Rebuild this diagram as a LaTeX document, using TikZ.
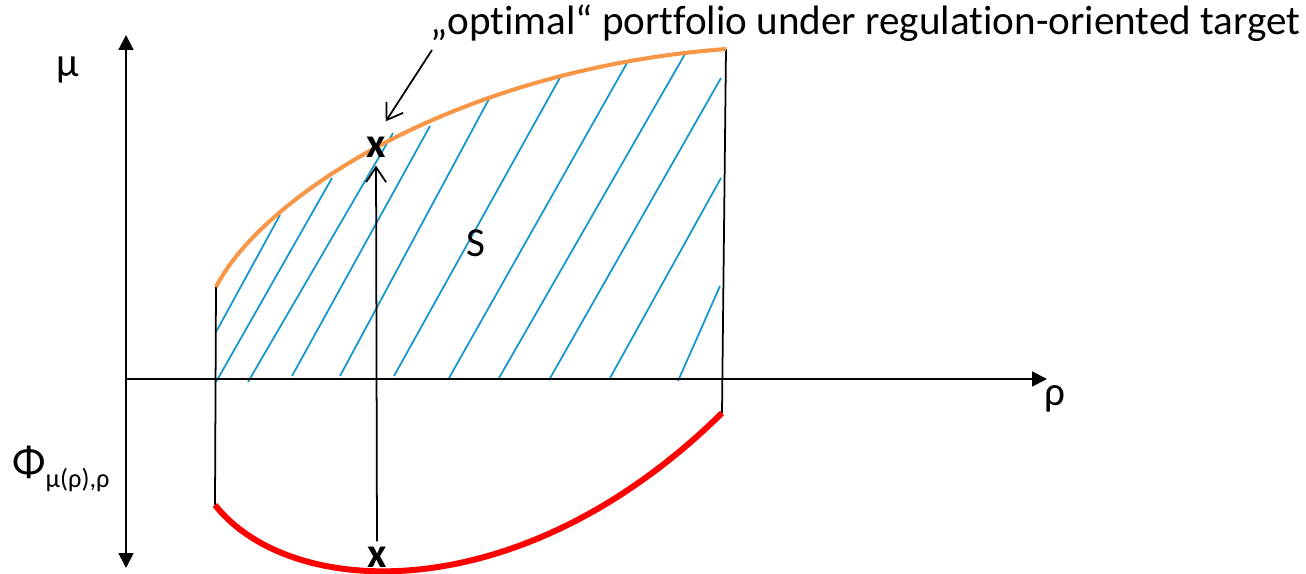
\documentclass[tikz,border=0pt]{standalone}
\usepackage{fontspec}
\setmainfont[Ligatures=NoCommon]{Carlito}
\usetikzlibrary{arrows.meta}
\definecolor{hatchblue}{RGB}{20,150,205}
\definecolor{frontorange}{RGB}{247,150,70}
\begin{document}
\begin{tikzpicture}[
        x=0.02cm, y=-0.02cm,
        lbl/.style={font=\fontsize{23.4}{28}\selectfont, inner sep=0},
        optpt/.style={font=\fontsize{24}{28}\selectfont\bfseries, inner sep=0},
        axis/.style={line width=1pt, -{Triangle[length=0.3cm, width=0.3cm]}},
        barb/.style={line width=1pt, -{Straight Barb[length=0.3cm, width=0.4cm]}},
        hatch/.style={hatchblue, line width=1pt}
    ]
        \useasboundingbox (0,0) rectangle (1306,574);

        \coordinate (o) at (126,379);
        \coordinate (ytop) at (126,35);
        \coordinate (ybot) at (126,568);
        \coordinate (xend) at (1047,379);
        \coordinate (lefttop) at (216,287);
        \coordinate (leftbot) at (215,505);
        \coordinate (righttop) at (726,49);
        \coordinate (rightbot) at (722,413);

        % hatching of S
        \foreach \xa/\ya/\xb/\yb in {216/332/280/215, 216/382/332/178, 248/382/393/133,
                292/376/430/126, 340/376/489/99, 394/376/562/74, 449/378/627/63,
                499/378/685/54, 549/380/721/78, 610/378/721/178, 678/381/720/286}
            \draw[hatch] (\xa,\ya) -- (\xb,\yb);

        \draw[axis, {Triangle[length=0.3cm, width=0.3cm]}-{Triangle[length=0.3cm, width=0.3cm]}] (ytop) -- (ybot);
        \draw[axis] (o) -- (xend);

        \draw[line width=1pt] (lefttop) -- (leftbot);
        \draw[line width=1pt] (righttop) -- (rightbot);

        \draw[frontorange, line width=2.3pt] (lefttop) .. controls (260,200) and (450,70) .. (righttop);
        \draw[red, line width=3.4pt] (leftbot) .. controls (290,600) and (520,612) .. (rightbot);

        \node[lbl] (mu) at (68,70) {μ};
        \node[lbl, anchor=base] (rho) at (1055,405) {ρ};
        \node[lbl] (s) at (476,243) {S};
        \node[anchor=base west, inner sep=0] (phi) at (12,477)
            {\fontsize{25}{30}\selectfont Φ\raisebox{-6pt}{\fontsize{15}{18}\selectfont μ(ρ),ρ}};
        \node[lbl, anchor=base west] (title) at (430,35)
            {„optimal“ portfolio under regulation-oriented target};

        \node[optpt] (xtop) at (376,147) {x};
        \node[optpt] (xbot) at (377,557) {x};

        \coordinate (annstart) at (432,50);
        \draw[barb] (annstart) -- (xtop.north) [shorten >=0.36cm];
        \draw[barb, {Straight Barb[length=0.3cm, width=0.4cm]}-] (xtop.south) -- (xbot.north)
            [shorten <=0.16cm, shorten >=0.1cm];
    \end{tikzpicture}
\end{document}
